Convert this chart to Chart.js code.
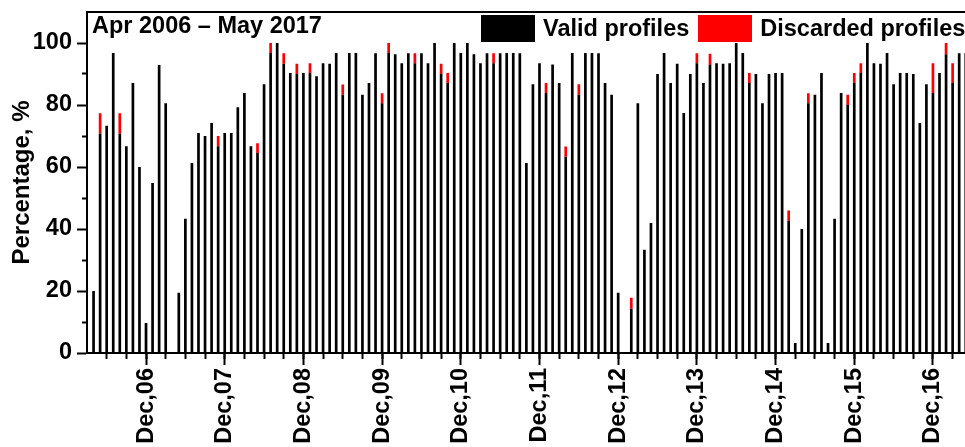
<!DOCTYPE html>
<html>
<head>
<meta charset="utf-8">
<title>Valid and discarded profiles, Apr 2006 – May 2017</title>
<script src="https://cdn.jsdelivr.net/npm/chart.js@4.4.1/dist/chart.umd.min.js"></script>
<style>
  html, body { margin: 0; padding: 0; background: #fff; overflow: hidden; }
  #wrap { position: relative; width: 1000px; height: 447px; }
  #chart { position: absolute; left: 0; top: 0; }
  #period {
    position: absolute; left: 92px; top: 14px; white-space: nowrap; color: #000;
    font: bold 23.5px/23.5px 'Liberation Sans', Arial, sans-serif;
  }
  #legend {
    position: absolute; left: 481px; top: 15px; height: 27px; display: flex; align-items: center;
    white-space: nowrap; color: #000; font: bold 23.5px/27px 'Liberation Sans', Arial, sans-serif;
  }
  .item { display: flex; align-items: center; }
  .item + .item { margin-left: 9px; }
  .swatch { width: 54px; height: 27px; margin-right: 8px; }
</style>
</head>
<body>
<div id="wrap">
  <canvas id="chart" width="1000" height="447"></canvas>
  <div id="period"></div>
  <div id="legend"></div>
</div>
<script>
// Monthly share of lidar profiles, in percent of the month's days.
const periodLabel = 'Apr 2006 \u2013 May 2017';

// Valid profiles, one value per month from Apr 2006 (null = no measurements)
const valid = [
  /* 2006 */ 20.0, 70.8, 73.3, 96.8, 70.8, 66.7, 87.1, 60.0, 9.7,
  /* 2007 */ 54.8, 92.9, 80.6, null, 19.4, 43.3, 61.3, 71.0, 70.0, 74.2, 66.7, 71.0,
  /* 2008 */ 71.0, 79.3, 83.9, 66.7, 64.5, 86.7, 96.8, 100.0, 93.3, 90.3, 90.0, 90.3,
  /* 2009 */ 90.3, 89.3, 93.5, 93.3, 96.8, 83.3, 96.8, 96.8, 83.3, 87.1, 96.7, 80.6,
  /* 2010 */ 96.8, 96.4, 93.5, 96.7, 93.5, 96.7, 93.5, 100.0, 90.0, 87.1, 100.0, 96.8,
  /* 2011 */ 100.0, 96.4, 93.5, 96.7, 93.5, 96.7, 96.8, 96.8, 96.7, 61.3, 86.7, 93.5,
  /* 2012 */ 83.9, 93.1, 87.1, 63.3, 96.8, 83.3, 96.8, 96.8, 96.7, 87.1, 83.3, 19.4,
  /* 2013 */ null, 14.3, 80.6, 33.3, 41.9, 90.0, 96.8, 87.1, 93.3, 77.4, 90.0, 93.5,
  /* 2014 */ 87.1, 92.9, 93.5, 93.3, 93.5, 100.0, 96.8, 87.1, 90.0, 80.6, 90.0, 90.3,
  /* 2015 */ 90.3, 42.6, 3.2, 40.0, 80.6, 83.3, 90.3, 3.2, 43.3, 83.9, 80.0, 87.1,
  /* 2016 */ 90.3, 100.0, 93.5, 93.3, 96.8, 86.7, 90.3, 90.3, 90.0, 74.2, 86.7, 83.9,
  /* 2017 */ 90.3, 96.4, 87.1, 96.7, 96.7
];

// Discarded profiles, same months
const discarded = [
  /* 2006 */ 0, 6.5, 0, 0, 6.5, 0, 0, 0, 0,
  /* 2007 */ 0, 0, 0, null, 0, 0, 0, 0, 0, 0, 3.3, 0,
  /* 2008 */ 0, 0, 0, 0, 3.2, 0, 3.2, 0, 3.4, 0, 3.3, 0,
  /* 2009 */ 3.2, 0, 0, 0, 0, 3.3, 0, 0, 0, 0, 0, 3.2,
  /* 2010 */ 3.2, 0, 0, 0, 3.2, 0, 0, 0, 3.3, 3.2, 0, 0,
  /* 2011 */ 0, 0, 0, 0, 3.2, 0, 0, 0, 0, 0, 0, 0,
  /* 2012 */ 3.2, 0, 0, 3.3, 0, 3.4, 0, 0, 0, 0, 0, 0,
  /* 2013 */ null, 3.5, 0, 0, 0, 0, 0, 0, 0, 0, 0, 3.2,
  /* 2014 */ 0, 3.6, 0, 0, 0, 0, 0, 3.2, 0, 0, 0, 0,
  /* 2015 */ 0, 3.4, 0, 0, 3.2, 0, 0, 0, 0, 0, 3.3, 3.2,
  /* 2016 */ 3.2, 0, 0, 0, 0, 0, 0, 0, 0, 0, 0, 9.6,
  /* 2017 */ 0, 3.6, 6.4, 0, 0
];

// Labelled (major) ticks on the time axis, and the value-axis ticks
const tickLabels = ['Dec,06', 'Dec,07', 'Dec,08', 'Dec,09', 'Dec,10', 'Dec,11',
                    'Dec,12', 'Dec,13', 'Dec,14', 'Dec,15', 'Dec,16'];
const yTickValues = [0, 20, 40, 60, 80, 100];
const yMinorValues = [10, 30, 50, 70, 90];

// Month categories, "Apr,06" ... "May,17"
const monthNames = ['Jan', 'Feb', 'Mar', 'Apr', 'May', 'Jun', 'Jul', 'Aug', 'Sep', 'Oct', 'Nov', 'Dec'];
const months = [];
for (let k = 0; k < valid.length; k++) {
  const m = (3 + k) % 12;
  const yy = 6 + Math.floor((3 + k) / 12);
  months.push(monthNames[m] + ',' + String(yy).padStart(2, '0'));
}

// Tick positions on the month axis: labelled Decembers, short ticks every quarter
const majorPos = tickLabels.map(l => months.indexOf(l));
const labelAt = {};
majorPos.forEach((p, j) => { labelAt[p] = tickLabels[j]; });
const minorPos = months
  .map((l, k) => (/^(Mar|Jun|Sep|Dec)/.test(l) ? k : -1))
  .filter(k => k >= 0);

const xMin = -1, xMax = months.length;
const font = { family: "'Liberation Sans', Arial, sans-serif", weight: 'bold', size: 23.5 };

const chart = new Chart(document.getElementById('chart'), {
  type: 'bar',
  data: {
    datasets: [
      {
        label: 'Valid profiles',
        data: months.map((m, k) => ({ x: k, y: valid[k] })),
        backgroundColor: '#000000',
        xAxisID: 'x', yAxisID: 'y'
      },
      {
        label: 'Discarded profiles',
        data: months.map((m, k) => ({ x: k, y: discarded[k] })),
        backgroundColor: '#ff0000',
        xAxisID: 'x', yAxisID: 'y'
      }
    ]
  },
  options: {
    responsive: false,
    animation: false,
    events: [],
    layout: { padding: { left: 0, right: 27.7, top: 12, bottom: 0 } },
    datasets: { bar: { categoryPercentage: 1, barPercentage: 0.41 } },
    plugins: { legend: { display: false }, tooltip: { enabled: false }, title: { display: false } },
    scales: {
      x: {
        type: 'linear', position: 'bottom', min: xMin, max: xMax, stacked: true, offset: false,
        afterBuildTicks: s => { s.ticks = majorPos.map(v => ({ value: v })); },
        afterFit: s => { s.height = 94; s.paddingLeft = 0; s.paddingRight = 0; },
        grid: { offset: false, drawOnChartArea: false, tickLength: 12, tickWidth: 2, tickColor: '#000' },
        border: { display: true, color: '#000', width: 2 },
        ticks: {
          autoSkip: false, minRotation: 90, maxRotation: 90, padding: 3, color: '#000', font,
          callback: v => labelAt[v] || ''
        }
      },
      // quarterly minor ticks along the bottom edge
      xm: {
        type: 'linear', position: { y: 0 }, min: xMin, max: xMax, offset: false,
        afterBuildTicks: s => { s.ticks = minorPos.map(v => ({ value: v })); },
        grid: { offset: false, drawOnChartArea: false, tickLength: 6, tickWidth: 2, tickColor: '#000' },
        border: { display: false },
        ticks: { display: false, autoSkip: false }
      },
      // top frame line
      xTop: {
        type: 'linear', position: 'top', min: xMin, max: xMax, offset: false,
        afterBuildTicks: s => { s.ticks = []; },
        afterFit: s => { s.height = 0; },
        grid: { offset: false, drawOnChartArea: false, drawTicks: false },
        border: { display: true, color: '#000', width: 2 },
        ticks: { display: false }
      },
      y: {
        type: 'linear', position: 'left', min: 0, max: 110, stacked: true,
        afterBuildTicks: s => { s.ticks = yTickValues.map(v => ({ value: v })); },
        afterFit: s => { s.width = 87; s.paddingTop = 0; s.paddingBottom = 0; },
        grid: { drawOnChartArea: false, tickLength: 10, tickWidth: 2, tickColor: '#000' },
        border: { display: true, color: '#000', width: 2 },
        ticks: { padding: 5, color: '#000', font },
        title: {
          display: true, text: 'Percentage, %', color: '#000',
          font: { family: font.family, weight: 'bold', size: 24 },
          padding: { top: 8, bottom: 0 }
        }
      },
      // minor ticks between the labelled percentages
      ym: {
        type: 'linear', position: { x: xMin }, min: 0, max: 110,
        afterBuildTicks: s => { s.ticks = yMinorValues.map(v => ({ value: v })); },
        grid: { drawOnChartArea: false, tickLength: 5, tickWidth: 2, tickColor: '#000' },
        border: { display: false },
        ticks: { display: false }
      }
    }
  }
});

// Period caption and legend drawn from the chart's own datasets
document.getElementById('period').textContent = periodLabel;
const legend = document.getElementById('legend');
chart.data.datasets.forEach(ds => {
  const item = document.createElement('div');
  item.className = 'item';
  const sw = document.createElement('div');
  sw.className = 'swatch';
  sw.style.background = ds.backgroundColor;
  const tx = document.createElement('span');
  tx.textContent = ds.label;
  item.appendChild(sw);
  item.appendChild(tx);
  legend.appendChild(item);
});
</script>
</body>
</html>
